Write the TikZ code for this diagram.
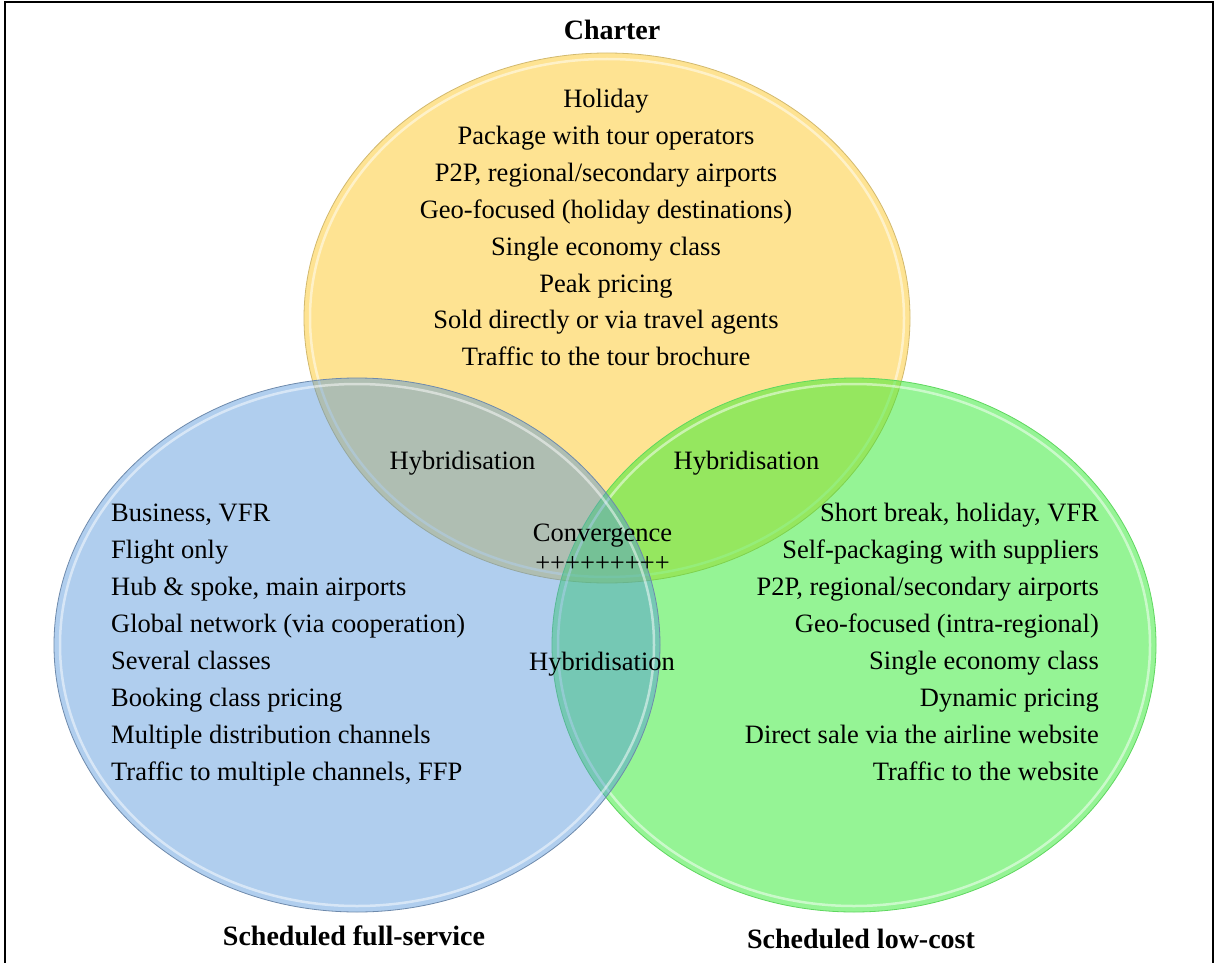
\documentclass[tikz,border=0pt]{standalone}
\usepackage{fontspec}
\setmainfont{Liberation Serif}
\definecolor{yel}{RGB}{254,227,146}
\definecolor{yelE}{RGB}{210,185,110}
\definecolor{grn}{RGB}{45,235,45}
\definecolor{grnE}{RGB}{95,215,95}
\definecolor{blu}{RGB}{80,147,218}
\definecolor{bluE}{RGB}{110,138,172}
\tikzset{
  body/.style={font=\fontsize{26.5}{30}\selectfont, inner sep=0pt, text=black},
  ttl/.style={font=\fontsize{28}{32}\selectfont\bfseries, inner sep=0pt, text=black},
  rim/.style={draw=white, line width=2.5pt, draw opacity=0.5},
  edge/.style={line width=0.8pt},
}
\begin{document}
\begin{tikzpicture}[x=1pt, y=-1pt]
\useasboundingbox (0,0) rectangle (1216,963);
\fill[white] (0,0) rectangle (1216,963);
% border (open at the bottom)
\draw[line width=2pt, black] (5,963) -- (5,2) -- (1213,2) -- (1213,963);

% circles
\fill[yel] (607,318) ellipse [x radius=303pt, y radius=265pt];
\draw[yelE, edge] (607,318) ellipse [x radius=303pt, y radius=265pt];
\draw[rim] (607,318) ellipse [x radius=297pt, y radius=259pt];

\fill[grn, fill opacity=0.5] (854,645) ellipse [x radius=302pt, y radius=267pt];
\draw[grnE, edge] (854,645) ellipse [x radius=302pt, y radius=267pt];
\draw[rim] (854,645) ellipse [x radius=296pt, y radius=261pt];

\fill[blu, fill opacity=0.45] (357,645) ellipse [x radius=303pt, y radius=267pt];
\draw[bluE, edge] (357,645) ellipse [x radius=303pt, y radius=267pt];
\draw[rim] (357,645) ellipse [x radius=297pt, y radius=261pt];

% titles
\node[ttl, anchor=base] (tCharter) at (612,39.5) {Charter};
\node[ttl, anchor=base] (tFull) at (354,945) {Scheduled full-service};
\node[ttl, anchor=base] (tLow) at (861,948) {Scheduled low-cost};

% charter list
\foreach \t [count=\i] in {Holiday, Package with tour operators, {P2P, regional/secondary airports}, Geo-focused (holiday destinations), Single economy class, Peak pricing, Sold directly or via travel agents, Traffic to the tour brochure}
  \node[body, anchor=base] (ch\i) at (606,{108+36.8*(\i-1)}) {\t};

% full-service list
\foreach \t [count=\i] in {{Business, VFR}, Flight only, {Hub \& spoke, main airports}, Global network (via cooperation), Several classes, Booking class pricing, Multiple distribution channels, {Traffic to multiple channels, FFP}}
  \node[body, anchor=base west] (fs\i) at (111,{521+37*(\i-1)}) {\t};

% low-cost list
\foreach \t [count=\i] in {{Short break, holiday, VFR}, Self-packaging with suppliers, {P2P, regional/secondary airports}, Geo-focused (intra-regional), Single economy class, Dynamic pricing, Direct sale via the airline website, Traffic to the website}
  \node[body, anchor=base east] (lc\i) at (1099,{521+37*(\i-1)}) {\t};

% overlap labels
\node[body, anchor=base] (hybL) at (462.5,469) {Hybridisation};
\node[body, anchor=base] (hybR) at (746.5,469) {Hybridisation};
\node[body, anchor=base] (hybB) at (602,670.5) {Hybridisation};
\node[body, anchor=base] (conv) at (602.5,541.5) {Convergence};
\node[body, anchor=base] (plus) at (602.5,571) {+++++++++};
\end{tikzpicture}
\end{document}
